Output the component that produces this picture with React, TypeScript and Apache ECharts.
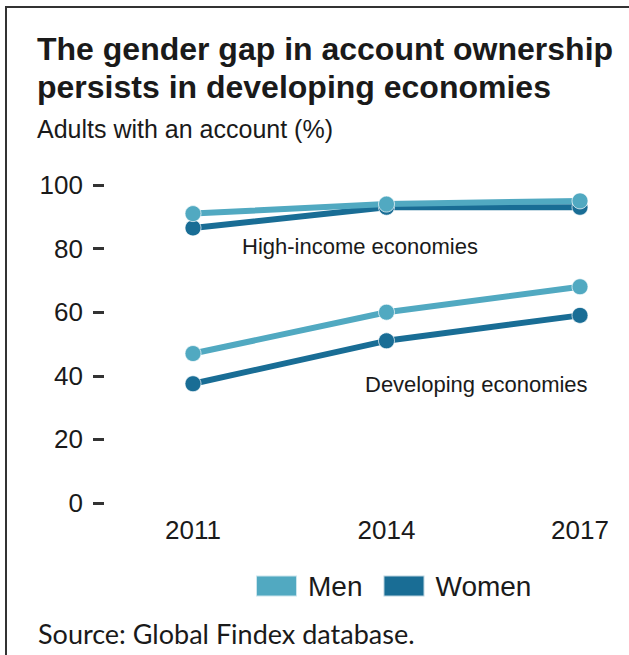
import React, { useEffect, useRef } from "react";
import * as echarts from "echarts";

const years = ["2011", "2014", "2017"];
const menHigh = [91, 94, 95];
const womenHigh = [86.5, 93, 93];
const menDev = [47, 60, 68];
const womenDev = [37.5, 51, 59];
const yTicks = { min: 0, max: 100, interval: 20 };

const MEN = "#51a9c1";
const WOMEN = "#196d95";

export default function App() {
  const ref = useRef<HTMLDivElement>(null);
  useEffect(() => {
    if (!ref.current) return;
    const chart = echarts.init(ref.current, null, { renderer: "svg" });
    const lineSeries = (name: string, data: number[], color: string, z: number) => ({
      name,
      type: "line",
      data,
      z,
      symbol: "circle",
      symbolSize: 16,
      lineStyle: { color, width: 6 },
      itemStyle: { color, borderColor: "rgba(255,255,255,0.7)", borderWidth: 1 },
    });
    chart.setOption({
      animation: false,
      title: [
        {
          text: "The gender gap in account ownership\npersists in developing economies",
          subtext: "Adults with an account (%)",
          left: 32,
          top: 25,
          itemGap: 10,
          textStyle: {
            fontFamily: "Liberation Sans, Arial, sans-serif",
            fontSize: 32,
            fontWeight: "bold",
            color: "#1a1a1a",
            lineHeight: 38,
          },
          subtextStyle: {
            fontFamily: "Liberation Sans, Arial, sans-serif",
            fontSize: 25,
            color: "#1a1a1a",
          },
        },
        {
          text: "Source: Global Findex database.",
          left: 33,
          top: 615,
          textStyle: {
            fontFamily: "Lato, sans-serif",
            fontSize: 27,
            fontWeight: "normal",
            color: "#1a1a1a",
          },
        },
      ],
      legend: {
        data: ["Men", "Women"],
        left: 255,
        top: 572,
        padding: 0,
        icon: "rect",
        itemWidth: 41,
        itemHeight: 21,
        itemGap: 20,
        textStyle: {
          fontFamily: "Liberation Sans, Arial, sans-serif",
          fontSize: 28,
          color: "#1a1a1a",
          padding: [0, 0, 0, 6],
        },
      },
      grid: { left: 193, right: 49, top: 185, bottom: 152 },
      xAxis: {
        type: "category",
        data: years,
        boundaryGap: false,
        axisLine: { show: false },
        axisTick: { show: false },
        axisLabel: {
          fontFamily: "Liberation Sans, Arial, sans-serif",
          fontSize: 26,
          color: "#1a1a1a",
          margin: 14,
        },
      },
      yAxis: {
        type: "value",
        min: yTicks.min,
        max: yTicks.max,
        interval: yTicks.interval,
        offset: 89,
        axisLine: { show: false },
        axisTick: { show: true, length: 11, lineStyle: { color: "#333", width: 3 } },
        splitLine: { show: false },
        axisLabel: {
          fontFamily: "Liberation Sans, Arial, sans-serif",
          fontSize: 26,
          color: "#1a1a1a",
          margin: 21,
        },
      },
      graphic: [
        {
          type: "polyline",
          shape: { points: [[6, 655], [6, 7], [629, 7]] },
          style: { stroke: "#333", lineWidth: 2, fill: "none" },
        },
        {
          type: "text",
          x: 242,
          y: 246,
          style: {
            text: "High-income economies",
            fontFamily: "Liberation Sans, Arial, sans-serif",
            fontSize: 22,
            fill: "#1a1a1a",
            verticalAlign: "middle",
          },
        },
        {
          type: "text",
          x: 365,
          y: 384,
          style: {
            text: "Developing economies",
            fontFamily: "Liberation Sans, Arial, sans-serif",
            fontSize: 22,
            fill: "#1a1a1a",
            verticalAlign: "middle",
          },
        },
      ],
      series: [
        lineSeries("Women", womenHigh, WOMEN, 2),
        lineSeries("Men", menHigh, MEN, 3),
        lineSeries("Women", womenDev, WOMEN, 2),
        lineSeries("Men", menDev, MEN, 3),
      ],
    });
    return () => chart.dispose();
  }, []);
  return (
    <div
      ref={ref}
      style={{ position: "absolute", left: 0, top: 0, width: 629, height: 655, background: "#fff" }}
    />
  );
}
